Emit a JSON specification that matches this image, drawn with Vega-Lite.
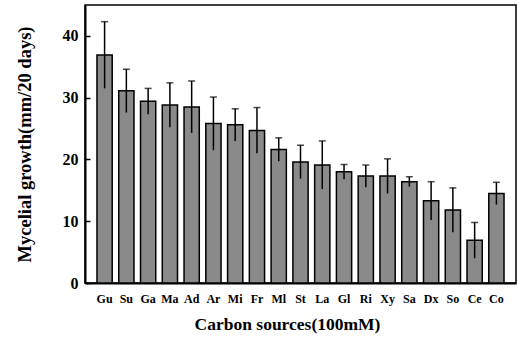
{
  "$schema": "https://vega.github.io/schema/vega-lite/v6.json",
  "width": 431,
  "height": 278,
  "autosize": {"type": "none"},
  "padding": {"left": 85, "top": 5, "right": 1, "bottom": 58},
  "background": "white",
  "config": {
    "view": {"stroke": "black", "strokeWidth": 1.5},
    "font": "Liberation Serif"
  },
  "data": {
    "values": [
      {"source": "Gu", "mean": 36.9, "err": 5.4},
      {"source": "Su", "mean": 31.1, "err": 3.5},
      {"source": "Ga", "mean": 29.4, "err": 2.1},
      {"source": "Ma", "mean": 28.8, "err": 3.6},
      {"source": "Ad", "mean": 28.5, "err": 4.2},
      {"source": "Ar", "mean": 25.8, "err": 4.3},
      {"source": "Mi", "mean": 25.6, "err": 2.6},
      {"source": "Fr", "mean": 24.7, "err": 3.7},
      {"source": "Ml", "mean": 21.6, "err": 1.9},
      {"source": "St", "mean": 19.6, "err": 2.7},
      {"source": "La", "mean": 19.1, "err": 3.9},
      {"source": "Gl", "mean": 18.0, "err": 1.2},
      {"source": "Ri", "mean": 17.3, "err": 1.8},
      {"source": "Xy", "mean": 17.3, "err": 2.8},
      {"source": "Sa", "mean": 16.4, "err": 0.8},
      {"source": "Dx", "mean": 13.3, "err": 3.1},
      {"source": "So", "mean": 11.8, "err": 3.6},
      {"source": "Ce", "mean": 6.9, "err": 2.9},
      {"source": "Co", "mean": 14.5, "err": 1.8}
    ]
  },
  "transform": [
    {"calculate": "datum.mean - datum.err", "as": "low"},
    {"calculate": "datum.mean + datum.err", "as": "high"}
  ],
  "encoding": {
    "x": {
      "field": "source",
      "type": "nominal",
      "sort": null,
      "scale": {"paddingInner": 0.3, "paddingOuter": 0.55},
      "axis": {
        "title": "Carbon sources(100mM)",
        "titleFont": "Liberation Serif",
        "titleFontSize": 17.5,
        "titleFontWeight": "bold",
        "titleColor": "black",
        "titlePadding": 11,
        "titleX": 202,
        "labelAngle": 0,
        "labelFont": "Liberation Serif",
        "labelFontSize": 12,
        "labelFontWeight": "bold",
        "labelColor": "black",
        "labelPadding": 10,
        "ticks": false,
        "domainColor": "black",
        "domainWidth": 2
      }
    }
  },
  "layer": [
    {
      "mark": {"type": "bar", "fill": "#8a8a8a", "stroke": "black", "strokeWidth": 1.5},
      "encoding": {
        "y": {
          "field": "mean",
          "type": "quantitative",
          "scale": {"domain": [0, 45], "nice": false},
          "axis": {
            "title": "Mycelial growth(mm/20 days)",
            "titleFont": "Liberation Serif",
            "titleFontSize": 18.5,
            "titleFontWeight": "bold",
            "titleColor": "black",
            "titlePadding": 28,
            "values": [0, 5, 10, 15, 20, 25, 30, 35, 40],
            "labelExpr": "datum.value % 10 == 0 ? datum.label : ''",
            "labelFont": "Liberation Serif",
            "labelFontSize": 16,
            "labelFontWeight": "bold",
            "labelColor": "black",
            "labelPadding": 12,
            "tickSize": -5,
            "tickColor": "black",
            "tickWidth": 1.5,
            "domainColor": "black",
            "domainWidth": 2,
            "grid": false
          }
        }
      }
    },
    {
      "mark": {"type": "rule", "color": "black", "strokeWidth": 1.5},
      "encoding": {
        "y": {"field": "low", "type": "quantitative"},
        "y2": {"field": "high"}
      }
    },
    {
      "mark": {"type": "tick", "color": "black", "thickness": 1.5, "size": 7, "orient": "horizontal"},
      "encoding": {
        "y": {"field": "high", "type": "quantitative"}
      }
    }
  ]
}
